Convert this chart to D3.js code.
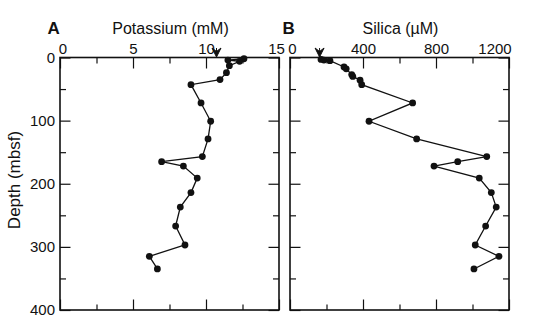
<!DOCTYPE html>
<html>
<head>
<meta charset="utf-8">
<script src="https://cdn.jsdelivr.net/npm/d3@7"></script>
<style>
  html, body { margin: 0; padding: 0; background: #fff; }
  svg { display: block; }
  text { font-family: "Liberation Sans", Arial, Helvetica, sans-serif; fill: #111; }
</style>
</head>
<body>
<svg id="chart" width="538" height="325"></svg>
<script>
// ---- Data ----
const kDepth = [2, 4, 6, 13, 24, 35, 43, 72, 101, 129, 157, 165, 172, 191, 214, 237, 267, 297, 315, 335];
const kValue = [12.6, 11.5, 12.3, 11.6, 11.4, 10.96, 8.97, 9.66, 10.32, 10.14, 9.75, 6.96, 8.45, 9.4, 8.97, 8.24, 7.92, 8.56, 6.12, 6.67];
const siDepth = [3, 4, 5, 15, 18, 27, 30, 36, 43, 72, 101, 129, 157, 165, 172, 191, 214, 237, 267, 297, 315, 335];
const siValue = [170, 186, 219, 296, 308, 338, 344, 384, 393, 672, 433, 694, 1078, 919, 789, 1037, 1103, 1130, 1072, 1015, 1145, 1008];
const kTicks = [0, 5, 10, 15];
const kMinorTicks = [2.5, 7.5, 12.5];
const siTicks = [0, 400, 800, 1200];
const siMinorTicks = [200, 600, 1000];
const depthTicks = [0, 100, 200, 300, 400];
const depthMinorTicks = [50, 150, 250, 350];
const kArrow = 10.72;     // seawater marker
const siArrow = 162;

const svg = d3.select("#chart");
const plotTop = 57.5, plotBottom = 310;
const y = d3.scaleLinear().domain([0, 400]).range([plotTop, plotBottom]);

function styleLines(sel) {
  sel.select(".domain").remove();
  sel.selectAll("line").attr("stroke", "#111").attr("stroke-width", 1.2);
}

function panel(opts) {
  const x = d3.scaleLinear().domain(opts.domain).range([opts.left, opts.right]);
  const g = svg.append("g");

  // top axis major with labels
  const ta = g.append("g").attr("transform", `translate(0,${plotTop})`)
    .call(d3.axisTop(x).tickValues(opts.ticks).tickSizeInner(-11).tickSizeOuter(0).tickPadding(4)
      .tickFormat(d3.format("d")));
  styleLines(ta);
  ta.selectAll("text").style("font-size", "15px").style("font-family", "'Liberation Sans', Arial, sans-serif").attr("fill", "#111");
  ta.selectAll(".tick text").attr("dx", (d, i) => i === 0 ? opts.firstShift : (i === opts.ticks.length - 1 ? opts.lastShift : 0));
  const tm = g.append("g").attr("transform", `translate(0,${plotTop})`)
    .call(d3.axisTop(x).tickValues(opts.minor).tickSizeInner(-6).tickSizeOuter(0).tickFormat(""));
  styleLines(tm);

  // bottom axis ticks (inward)
  const ba = g.append("g").attr("transform", `translate(0,${plotBottom})`)
    .call(d3.axisBottom(x).tickValues(opts.ticks).tickSizeInner(-10.5).tickSizeOuter(0).tickFormat(""));
  styleLines(ba);
  const bm = g.append("g").attr("transform", `translate(0,${plotBottom})`)
    .call(d3.axisBottom(x).tickValues(opts.minor).tickSizeInner(-5.5).tickSizeOuter(0).tickFormat(""));
  styleLines(bm);

  // left and right y ticks (inward)
  const la = g.append("g").attr("transform", `translate(${opts.left},0)`)
    .call(d3.axisLeft(y).tickValues(depthTicks).tickSizeInner(-10.5).tickSizeOuter(0).tickPadding(5)
      .tickFormat(opts.yLabels ? d3.format("d") : ""));
  styleLines(la);
  la.selectAll("text").style("font-size", "15px").style("font-family", "'Liberation Sans', Arial, sans-serif").attr("fill", "#111");
  const lm = g.append("g").attr("transform", `translate(${opts.left},0)`)
    .call(d3.axisLeft(y).tickValues(depthMinorTicks).tickSizeInner(-6).tickSizeOuter(0).tickFormat(""));
  styleLines(lm);
  const ra = g.append("g").attr("transform", `translate(${opts.right},0)`)
    .call(d3.axisRight(y).tickValues(depthTicks).tickSizeInner(-10.5).tickSizeOuter(0).tickFormat(""));
  styleLines(ra);
  const rm = g.append("g").attr("transform", `translate(${opts.right},0)`)
    .call(d3.axisRight(y).tickValues(depthMinorTicks).tickSizeInner(-6).tickSizeOuter(0).tickFormat(""));
  styleLines(rm);

  // frame
  g.append("rect").attr("x", opts.left).attr("y", plotTop)
    .attr("width", opts.right - opts.left).attr("height", plotBottom - plotTop)
    .attr("fill", "none").attr("stroke", "#111").attr("stroke-width", 1.6);

  // data line and points
  const pts = opts.depth.map((d, i) => [opts.values[i], d]);
  g.append("path").datum(pts)
    .attr("fill", "none").attr("stroke", "#111").attr("stroke-width", 1.3)
    .attr("d", d3.line().x(d => x(d[0])).y(d => y(d[1])));
  g.selectAll("circle.pt").data(pts).join("circle").attr("class", "pt")
    .attr("cx", d => x(d[0])).attr("cy", d => y(d[1])).attr("r", 3.4).attr("fill", "#111");

  // arrow marker
  g.append("path")
    .attr("transform", `translate(${x(opts.arrow)},${plotTop - 0.5})`)
    .attr("d", "M-4.5,-9 L0,-5.5 L4.5,-9 L0,0 Z M0,-9 L0,-4")
    .attr("fill", "#111").attr("stroke", "#111").attr("stroke-width", 1);

  // panel letter and title
  g.append("text").attr("x", opts.letterX).attr("y", 34.3)
    .style("font-size", "17px").style("font-weight", "bold").text(opts.letter);
  g.append("text").attr("x", opts.titleX).attr("y", 34.3).attr("text-anchor", "middle")
    .style("font-size", "16px").text(opts.title);
}

panel({
  domain: [0, 15], left: 60, right: 279, ticks: kTicks, minor: kMinorTicks,
  depth: kDepth, values: kValue, arrow: kArrow, yLabels: true,
  letter: "A", letterX: 47.5, title: "Potassium (mM)", titleX: 170.5,
  firstShift: 2.5, lastShift: -3
});
panel({
  domain: [0, 1200], left: 290, right: 509, ticks: siTicks, minor: siMinorTicks,
  depth: siDepth, values: siValue, arrow: siArrow, yLabels: false,
  letter: "B", letterX: 282.5, title: "Silica (\u00B5M)", titleX: 400.5,
  firstShift: 2, lastShift: -14.5
});

// y axis title
svg.append("text")
  .attr("transform", "translate(20,180) rotate(-90)")
  .attr("text-anchor", "middle")
  .style("font-size", "17px")
  .text("Depth (mbsf)");
</script>
</body>
</html>
